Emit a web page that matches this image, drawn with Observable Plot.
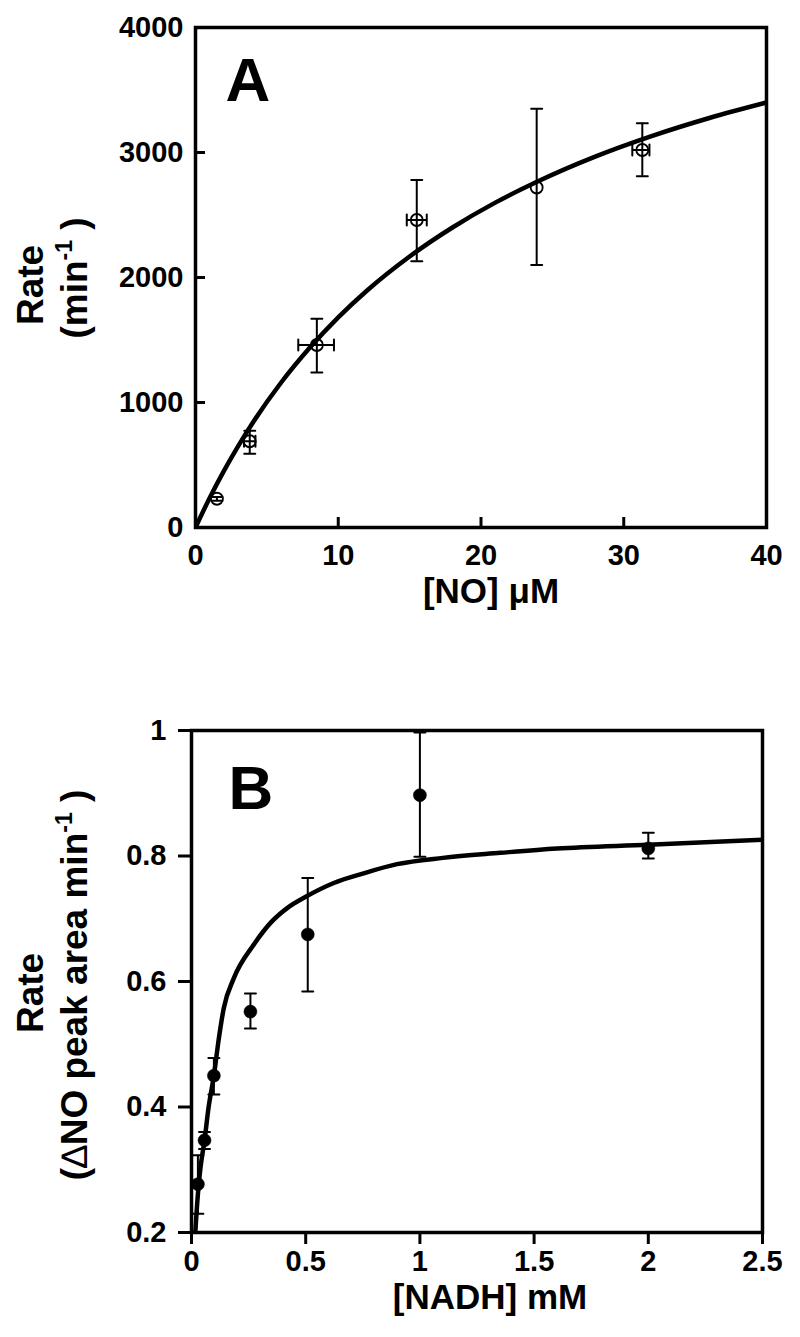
<!DOCTYPE html>
<html><head><meta charset="utf-8">
<script src="https://cdn.jsdelivr.net/npm/d3@7"></script>
<script src="https://cdn.jsdelivr.net/npm/@observablehq/plot@0.6"></script>
<style>
body{margin:0;background:#fff;}
#chart{width:800px;}
#chart svg{display:block;}
</style>
</head><body><div id="chart"></div>
<script>
// ---------- Panel A data ----------
const noConc   = [1.5, 3.8, 8.5, 15.5, 23.9, 31.3];
const rateA    = [230, 690, 1460, 2460, 2720, 3020];
const rateALo  = [215, 590, 1240, 2130, 2100, 2810];
const rateAHi  = [245, 775, 1670, 2780, 3350, 3235];
const noLo     = [1.5, 3.4, 7.2, 14.8, 23.9, 30.6];
const noHi     = [1.5, 4.2, 9.7, 16.2, 23.9, 31.8];
const curveNO  = [0, 1, 2, 3, 4, 6, 8, 10, 12, 15, 18, 21, 24, 28, 32, 36, 40];
const curveRA  = [0, 238, 455, 653, 836, 1160, 1438, 1681, 1894, 2168, 2400, 2599, 2770, 2967, 3133, 3276, 3400];
const ticksAX  = [0, 10, 20, 30, 40];
const ticksAY  = [0, 1000, 2000, 3000, 4000];

// ---------- Panel B data ----------
const nadh     = [0.028, 0.057, 0.098, 0.258, 0.509, 1.0, 2.0];
const rateB    = [0.277, 0.347, 0.45, 0.552, 0.675, 0.897, 0.812];
const rateBLo  = [0.23, 0.333, 0.42, 0.525, 0.584, 0.799, 0.796];
const rateBHi  = [0.323, 0.36, 0.478, 0.581, 0.765, 0.997, 0.837];
const curveNADH= [0.015, 0.02, 0.03, 0.04, 0.057, 0.075, 0.098, 0.12, 0.141, 0.185, 0.273, 0.35, 0.419, 0.5, 0.623, 0.75, 0.9, 1.1, 1.352, 1.6, 2.0, 2.5];
const curveRB  = [0.19, 0.22, 0.27, 0.305, 0.347, 0.40, 0.45, 0.51, 0.557, 0.605, 0.659, 0.695, 0.717, 0.735, 0.757, 0.772, 0.787, 0.797, 0.805, 0.812, 0.818, 0.826];
const ticksBX  = [0, 0.5, 1, 1.5, 2, 2.5];
const ticksBY  = [0.2, 0.4, 0.6, 0.8, 1];

const ptsA = noConc.map((x, i) => ({x, y: rateA[i], lo: rateALo[i], hi: rateAHi[i], xlo: noLo[i], xhi: noHi[i]}));
const lineA = curveNO.map((x, i) => ({x, y: curveRA[i]}));
const ptsB = nadh.map((x, i) => ({x, y: rateB[i], lo: rateBLo[i], hi: rateBHi[i]}));
const lineB = curveNADH.map((x, i) => ({x, y: curveRB[i]}));

const FONT = "'Liberation Sans', Arial, Helvetica, sans-serif";
const hcap = {draw(ctx, l) { ctx.moveTo(-l / 2, 0); ctx.lineTo(l / 2, 0); }};
const vcap = {draw(ctx, l) { ctx.moveTo(0, -l / 2); ctx.lineTo(0, l / 2); }};
const fmt = d => String(d);

const plotA = Plot.plot({
  width: 800, height: 640,
  marginTop: 27, marginBottom: 113, marginLeft: 195, marginRight: 34,
  style: {fontFamily: FONT, background: "white", color: "black"},
  x: {domain: [0, 40]},
  y: {domain: [0, 4000]},
  marks: [
    Plot.axisX({ticks: ticksAX, tickSize: -10, tickPadding: 27, strokeWidth: 3, fontSize: 29, fontWeight: "bold", tickFormat: fmt, label: null}),
    Plot.axisY({ticks: ticksAY, tickSize: -10, tickPadding: 22, strokeWidth: 3, fontSize: 29, fontWeight: "bold", tickFormat: fmt, label: null}),
    Plot.line(lineA, {x: "x", y: "y", strokeWidth: 4.5, curve: "monotone-x", clip: true}),
    Plot.ruleX(ptsA, {x: "x", y1: "lo", y2: "hi", strokeWidth: 2}),
    Plot.vector(ptsA, {x: "x", y: "lo", length: 11, shape: hcap, anchor: "start", strokeWidth: 2}),
    Plot.vector(ptsA, {x: "x", y: "hi", length: 11, shape: hcap, anchor: "start", strokeWidth: 2}),
    Plot.ruleY(ptsA, {y: "y", x1: "xlo", x2: "xhi", strokeWidth: 2}),
    Plot.vector(ptsA.filter(d => d.xhi > d.xlo), {x: "xlo", y: "y", length: 11, shape: vcap, anchor: "start", strokeWidth: 2}),
    Plot.vector(ptsA.filter(d => d.xhi > d.xlo), {x: "xhi", y: "y", length: 11, shape: vcap, anchor: "start", strokeWidth: 2}),
    Plot.dot(ptsA, {x: "x", y: "y", r: 6, stroke: "black", strokeWidth: 1.8, fill: "none"}),
    Plot.text(["A"], {frameAnchor: "top-left", dx: 30, dy: 29, fontSize: 62, fontWeight: "bold", textAnchor: "start", lineAnchor: "top"}),
    Plot.frame({strokeWidth: 3.5})
  ]
});

const plotB = Plot.plot({
  width: 800, height: 697,
  marginTop: 90, marginBottom: 105, marginLeft: 191, marginRight: 38,
  style: {fontFamily: FONT, background: "white", color: "black"},
  x: {domain: [0, 2.5]},
  y: {domain: [0.2, 1]},
  marks: [
    Plot.axisX({ticks: ticksBX, tickSize: 12, tickPadding: 6, strokeWidth: 3, fontSize: 29, fontWeight: "bold", tickFormat: fmt, label: null}),
    Plot.axisY({ticks: ticksBY, tickSize: 13, tickPadding: 12, strokeWidth: 3, fontSize: 29, fontWeight: "bold", tickFormat: fmt, label: null}),
    Plot.line(lineB, {x: "x", y: "y", strokeWidth: 4.5, curve: "monotone-x", clip: true}),
    Plot.ruleX(ptsB, {x: "x", y1: "lo", y2: "hi", strokeWidth: 2, clip: true}),
    Plot.vector(ptsB, {x: "x", y: "lo", length: 11, shape: hcap, anchor: "start", strokeWidth: 2}),
    Plot.vector(ptsB, {x: "x", y: "hi", length: 11, shape: hcap, anchor: "start", strokeWidth: 2}),
    Plot.dot(ptsB, {x: "x", y: "y", r: 6.5, fill: "black", stroke: "black", strokeWidth: 0.5}),
    Plot.text(["B"], {frameAnchor: "top-left", dx: 37, dy: 34, fontSize: 62, fontWeight: "bold", textAnchor: "start", lineAnchor: "top"}),
    Plot.frame({strokeWidth: 3.5})
  ]
});

function addTitles(svg, xTitle, xPos, yPos, rateY, subY, subParts) {
  const s = d3.select(svg);
  const g = s.append("g").attr("font-family", FONT).attr("font-weight", "bold").attr("fill", "black");
  g.append("text").attr("x", xPos).attr("y", yPos).attr("text-anchor", "middle").attr("font-size", 35).text(xTitle);
  g.append("text").attr("transform", `translate(43,${rateY}) rotate(-90)`).attr("text-anchor", "middle").attr("font-size", 37).text("Rate");
  const t = g.append("text").attr("transform", `translate(87,${subY}) rotate(-90)`).attr("text-anchor", "middle").attr("font-size", 37);
  subParts.forEach(p => {
    const ts = t.append("tspan").text(p.text);
    if (p.weight) ts.attr("font-weight", p.weight);
  });
  t.append("tspan").attr("font-size", 23).attr("dy", -15).text("-1");
  t.append("tspan").attr("dy", 15).text(" )");
}
addTitles(plotA, "[NO] \u03BCM", 491, 603, 285, 278, [{text: "(min"}]);
addTitles(plotB, "[NADH] mM", 490, 669, 353, 345, [{text: "("}, {text: "\u2206", weight: "normal"}, {text: "NO peak area min"}]);

document.getElementById("chart").append(plotA, plotB);
</script>
</body></html>
